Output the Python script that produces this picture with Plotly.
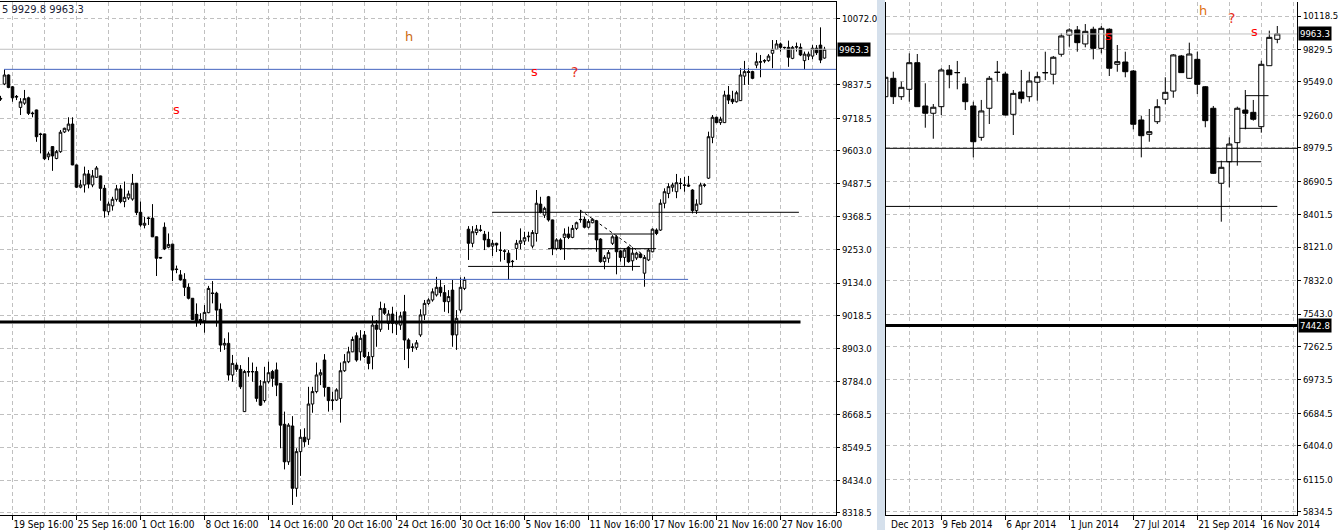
import plotly.graph_objects as go

# ---------------- Left panel: H4 candles (bar index 0..206) ----------------
L_open = [9789,9840,9872,9830,9796,9757,9772,9791,9737,9748,9663,9663,9582,9618,9576,9600,9670,9677,9698,9553,
          9474,9482,9521,9482,9509,9514,9470,9387,9408,9431,9468,9423,9436,9432,9488,9385,9339,9365,9364,9298,
          9225,9332,9261,9272,9184,9163,9147,9119,9080,9023,9005,9000,9029,9099,9098,9041,8914,8920,8808,8843,
          8828,8678,8820,8819,8820,8769,8717,8784,8820,8826,8778,8633,8500,8627,8406,8536,8587,8580,8705,8749,
          8808,8861,8764,8717,8719,8725,8823,8855,8890,8947,8890,8950,8873,8873,8985,8970,9044,8991,9024,8989,
          8985,9032,8932,8906,8906,8950,9021,9062,9074,9092,9119,9100,9068,9109,8950,9038,9115,9325,9275,9313,
          9322,9307,9289,9265,9275,9251,9248,9240,9210,9257,9275,9283,9298,9265,9310,9414,9375,9440,9358,9257,
          9287,9296,9308,9296,9328,9360,9360,9332,9348,9355,9290,9210,9222,9275,9298,9248,9225,9261,9213,9223,
          9237,9169,9216,9245,9322,9322,9417,9452,9474,9458,9488,9482,9482,9464,9391,9414,9482,9506,9651,9722,
          9703,9703,9801,9786,9777,9781,9868,9884,9884,9907,9919,9923,9923,9949,9963,9982,9970,9970,9931,9971,
          9970,9923,9939,9939,9967,9978,9932]
L_high = [9798,9892,9874,9833,9801,9790,9819,9795,9742,9749,9667,9664,9600,9619,9606,9677,9685,9722,9722,9554,
          9500,9547,9535,9535,9549,9515,9482,9423,9440,9482,9482,9494,9462,9521,9489,9423,9369,9369,9414,9299,
          9226,9349,9310,9273,9196,9180,9169,9133,9081,9062,9027,9056,9124,9141,9103,9062,8938,8959,8879,8852,
          8843,8826,8871,8852,8837,8790,8837,8855,8826,8852,8779,8678,8637,8662,8548,8615,8619,8766,8766,8852,
          8828,8882,8765,8749,8761,8852,8882,8908,8944,8959,8967,8964,8890,9018,9003,9068,9062,9038,9050,9032,
          9032,9092,8938,8920,8932,9041,9074,9080,9115,9156,9145,9127,9109,9145,9038,9154,9156,9336,9336,9340,
          9340,9319,9316,9287,9277,9316,9254,9251,9216,9287,9328,9316,9316,9322,9464,9440,9405,9443,9359,9293,
          9293,9328,9334,9340,9352,9393,9369,9360,9364,9358,9293,9233,9251,9304,9304,9251,9257,9265,9261,9245,
          9240,9233,9257,9328,9328,9431,9470,9488,9490,9521,9506,9511,9514,9467,9431,9490,9488,9671,9730,9724,
          9724,9816,9833,9816,9816,9896,9922,9896,9887,9951,9943,9928,9946,9996,9996,9987,9972,9994,9975,9987,
          9984,9955,9955,9978,9978,10041,9972]
L_low = [9780,9836,9825,9777,9783,9730,9766,9730,9722,9635,9594,9570,9570,9532,9573,9596,9666,9671,9552,9471,
         9470,9455,9470,9474,9507,9426,9366,9375,9391,9423,9417,9403,9429,9426,9375,9334,9328,9340,9297,9159,
         9221,9251,9257,9141,9169,9143,9088,9076,9003,8979,8985,8958,9027,9062,8979,8890,8897,8788,8784,8819,
         8758,8677,8802,8784,8713,8698,8710,8778,8766,8733,8548,8473,8489,8347,8376,8450,8553,8560,8674,8743,
         8772,8731,8678,8684,8716,8639,8819,8850,8889,8855,8859,8868,8828,8828,8908,8961,9021,8968,8956,8950,
         8968,8861,8832,8890,8897,8943,9003,9056,9068,9086,9086,9032,9027,8908,8897,9029,9109,9216,9261,9304,
         9316,9251,9261,9230,9244,9210,9216,9145,9190,9216,9254,9269,9281,9257,9281,9381,9365,9352,9233,9251,
         9251,9216,9290,9293,9322,9348,9328,9328,9346,9245,9206,9183,9206,9269,9165,9210,9195,9206,9178,9216,
         9222,9121,9212,9243,9304,9319,9399,9435,9458,9435,9467,9458,9475,9381,9379,9411,9474,9503,9630,9701,
         9695,9702,9769,9769,9774,9780,9837,9837,9857,9896,9864,9914,9919,9896,9961,9955,9963,9901,9928,9955,
         9939,9892,9925,9928,9943,9914,9929.8]
L_close = [9787,9872,9828,9791,9794,9777,9788,9736,9735,9653,9661,9575,9592,9585,9600,9669,9683,9698,9553,9474,
           9482,9521,9485,9514,9542,9470,9390,9414,9431,9468,9423,9438,9450,9488,9384,9340,9346,9363,9298,9222,
           9223,9255,9271,9180,9182,9145,9119,9080,9005,9000,9001,9030,9115,9097,9038,8914,8920,8808,8849,8828,
           8766,8820,8819,8820,8725,8701,8784,8816,8796,8772,8630,8500,8630,8406,8536,8587,8571,8705,8749,8808,
           8816,8764,8717,8719,8755,8823,8855,8890,8934,8861,8938,8873,8849,8985,8970,9044,9027,9024,8991,8997,
           9017,8932,8903,8907,8922,9021,9062,9074,9103,9119,9100,9068,9086,8950,9009,9119,9147,9275,9316,9325,
           9321,9287,9263,9275,9269,9250,9247,9206,9211,9275,9284,9295,9300,9313,9417,9384,9399,9358,9257,9287,
           9257,9308,9296,9328,9348,9359,9332,9352,9360,9287,9210,9225,9242,9298,9245,9225,9251,9210,9240,9240,
           9225,9225,9251,9325,9310,9417,9458,9476,9482,9490,9487,9481,9478,9391,9414,9482,9481,9653,9722,9703,
           9715,9801,9783,9777,9809,9872,9884,9881,9860,9919,9918,9922,9939,9963,9982,9970,9969,9935,9970,9972,
           9943,9946,9946,9967,9951,9925,9963.3]
L_idx = list(range(len(L_open)))

L_tick_idx = [3, 19, 35, 51, 67, 83, 99, 115, 131, 147, 163, 179, 195]
L_tick_text = ["19 Sep 16:00", "25 Sep 16:00", "1 Oct 16:00", "8 Oct 16:00", "14 Oct 16:00",
               "20 Oct 16:00", "24 Oct 16:00", "30 Oct 16:00", "5 Nov 16:00", "11 Nov 16:00",
               "17 Nov 16:00", "21 Nov 16:00", "27 Nov 16:00"]
L_grid_idx = list(range(3, 208, 8))
L_ytick_vals = [10072.0, 9837.5, 9718.5, 9603.0, 9487.5, 9368.5, 9253.0, 9134.0, 9018.5,
                8903.0, 8784.0, 8668.5, 8549.5, 8434.0, 8318.5]

# ---------------- Right panel: weekly candles (bar index -1..48) ----------------
R_open = [9421,9580,9421,9485,9715,9341,9278,9335,9652,9630,9531,9341,9070,9321,9633,9617,9269,9462,9421,9546,
          9630,9615,9788,9954,9998,9877,10004,9839,10004,9701,9721,9643,9220,9096,9205,9399,9470,9773,9580,9744,
          9507,9321,8673,8859,9024,9306,9286,9162,9689,9917]
R_high = [9609,9637,9551,9796,9790,9537,9358,9667,9695,9730,9589,9378,9393,9600,9730,9637,9479,9652,9637,9637,
          9810,9773,9969,10012,10032,10049,10026,10032,10012,9868,9810,9652,9254,9315,9399,9589,9790,9782,9888,9810,
          9513,9341,8868,9070,9335,9479,9393,9732,9992,10032]
R_low = [9410,9358,9393,9378,9334,9153,9058,9263,9494,9485,9306,8897,9041,9185,9551,9258,9090,9364,9378,9387,
         9565,9528,9767,9853,9810,9848,9744,9796,9600,9637,9589,9139,8897,9032,9185,9355,9412,9626,9574,9444,
         9157,8753,8341,8638,8825,9139,9214,9110,9689,9883]
R_close = [9589,9421,9502,9715,9335,9278,9330,9652,9611,9629,9378,9032,9298,9580,9631,9263,9450,9404,9557,9594,
           9628,9762,9946,9998,9888,9986,9839,10012,9667,9724,9637,9183,9084,9119,9335,9459,9782,9629,9790,9528,
           9214,8759,8811,9012,9321,9278,9226,9701,9934,9963.3]
R_idx = list(range(-1, len(R_open) - 1))

R_tick_idx = [6, 14, 22, 30, 38, 46]
R_tick_text = ["9 Feb 2014", "6 Apr 2014", "1 Jun 2014", "27 Jul 2014", "21 Sep 2014", "16 Nov 2014"]
R_first_label = "Dec 2013"
R_grid_idx = list(range(2, 51, 4))
R_ytick_vals = [10118.5, 9829.5, 9549.0, 9260.0, 8979.5, 8690.5, 8401.5, 8121.0, 7832.0,
                7543.0, 7262.5, 6973.5, 6684.5, 6404.0, 6115.0, 5834.5]

last_price = 9963.3
right_level_price = 7442.8
info_text = "5 9929.8 9963.3"

# drawn objects: (x0, x1, price0, price1)
L_blue_levels = [(0.9, 208.9, 9892, 9892), (50.9, 171.9, 9147, 9147)]
L_thick_levels = [(-0.2, 200.0, 8996, 8996)]
L_thin_levels = [(122.9, 199.6, 9385, 9385), (116.9, 159.9, 9193, 9193),
                 (136.9, 163.9, 9256, 9256), (146.9, 163.4, 9308, 9308)]
L_trend = [(144.9, 161.1, 9393, 9230)]
R_thin_levels = [(-0.95, 50.5, 8975, 8975), (-0.95, 48.0, 8473, 8473),
                 (40.4, 46.0, 8859, 8859), (43.3, 46.05, 9148, 9148),
                 (44.05, 46.9, 9430, 9430), (44.05, 44.05, 9148, 9430)]
R_thick_levels = [(-0.95, 50.5, right_level_price, right_level_price)]

# text marks: (index, price, text, color, size)
L_marks = [(43.9, 9750, "s", "#ff0000", 13), (102.1, 10007, "h", "#cc6a10", 13),
           (133.6, 9886, "s", "#ff0000", 13), (143.6, 9883, "?", "#e8321e", 14)]
R_marks = [(26.9, 9954, "s", "#ff0000", 13), (38.7, 10166, "h", "#e07010", 13),
           (42.3, 10097, "?", "#e8321e", 14), (45.2, 9985, "s", "#ff0000", 13)]

# ---------------- figure ----------------
W, H = 1338, 530
def px(x):
    return x / W

y_dom = [(H - 515) / H, (H - 2) / H]
FONT = "DejaVu Sans Condensed, DejaVu Sans, sans-serif"
GRID = "#c0c0c0"
DASH = "4px,3px"

candle_style = dict(
    increasing=dict(line=dict(color="black", width=1), fillcolor="white"),
    decreasing=dict(line=dict(color="black", width=1), fillcolor="black"),
    whiskerwidth=0, showlegend=False, hoverinfo="skip",
)

fig = go.Figure()
fig.add_trace(go.Candlestick(x=L_idx, open=L_open, high=L_high, low=L_low, close=L_close,
                             xaxis="x", yaxis="y", **candle_style))
fig.add_trace(go.Candlestick(x=R_idx, open=R_open, high=R_high, low=R_low, close=R_close,
                             xaxis="x2", yaxis="y2", **candle_style))

shapes = []
def seg(lst, xr, yr, color, width, dash="solid"):
    for x0, x1, p0, p1 in lst:
        shapes.append(dict(type="line", xref=xr, yref=yr, x0=x0, x1=x1, y0=p0, y1=p1,
                           line=dict(color=color, width=width, dash=dash), layer="above"))

# current price lines
seg([(-0.2, 209, last_price, last_price)], "x", "y", "#c0c0c0", 1)
seg([(-0.95, 50.5, last_price, last_price)], "x2", "y2", "#c0c0c0", 1)
seg(L_blue_levels, "x", "y", "#4565c0", 1)
seg(L_thick_levels, "x", "y", "black", 3)
seg(L_thin_levels, "x", "y", "black", 1)
seg(L_trend, "x", "y", "black", 1, "dot")
seg(R_thin_levels, "x2", "y2", "black", 1)
seg(R_thick_levels, "x2", "y2", "black", 3)

# separator between panels
shapes.append(dict(type="rect", xref="paper", yref="paper", x0=px(877), x1=px(885), y0=0, y1=1,
                   fillcolor="#d5e0ec", line=dict(width=0), layer="above"))

annotations = []
for k, p, t, c, s in L_marks:
    annotations.append(dict(x=k, y=p, xref="x", yref="y", text=t, showarrow=False,
                            font=dict(family="DejaVu Sans, sans-serif", size=s, color=c)))
for k, p, t, c, s in R_marks:
    annotations.append(dict(x=k, y=p, xref="x2", yref="y2", text=t, showarrow=False,
                            font=dict(family="DejaVu Sans, sans-serif", size=s, color=c)))

def price_box(xp, yref, val):
    annotations.append(dict(x=xp, y=val, xref="paper", yref=yref, text=f"{val:.1f}",
                            showarrow=False, xanchor="left", yanchor="middle",
                            bgcolor="black", borderpad=1,
                            font=dict(family=FONT, size=9.5, color="white")))

price_box(px(837), "y", last_price)
price_box(px(1298), "y2", last_price)
price_box(px(1298), "y2", right_level_price)

annotations.append(dict(x=px(0), y=(H - 10) / H, xref="paper", yref="paper", text=info_text,
                        showarrow=False, xanchor="left", yanchor="middle",
                        font=dict(family=FONT, size=11, color="#1b2236")))
annotations.append(dict(x=-0.5, y=(H - 524) / H, xref="x2", yref="paper", text=R_first_label,
                        showarrow=False, xanchor="left", yanchor="middle",
                        font=dict(family=FONT, size=10, color="black")))

xcommon = dict(showline=True, linecolor="black", linewidth=1, ticks="outside", ticklen=4,
               tickcolor="black", ticklabelposition="outside right", zeroline=False,
               tickangle=0, automargin=False, ticklabelstandoff=0,
               tickfont=dict(family=FONT, size=10, color="black"), showgrid=True,
               gridcolor=GRID, griddash=DASH, fixedrange=True,
               rangeslider=dict(visible=False))
ycommon = dict(side="right", showline=True, linecolor="black", linewidth=1, ticks="outside",
               ticklen=3, tickcolor="black", zeroline=False, showgrid=True, gridcolor=GRID,
               griddash=DASH, tickfont=dict(family=FONT, size=9.5, color="black"), fixedrange=True,
               automargin=False, domain=y_dom)

fig.update_layout(
    width=W, height=H, margin=dict(l=0, r=0, t=0, b=0, autoexpand=False),
    paper_bgcolor="white", plot_bgcolor="white", showlegend=False,
    boxgap=0.36, boxgroupgap=0,
    xaxis=dict(domain=[0, px(836)], range=[-0.125, 208.875], anchor="y", mirror=True,
               tickmode="array", tickvals=L_tick_idx, ticktext=L_tick_text,
               minor=dict(tickmode="array", tickvals=L_grid_idx, showgrid=True,
                          gridcolor=GRID, griddash=DASH, ticks=""),
               **xcommon),
    yaxis=dict(anchor="x", range=[8311.3, 10130.9], tickmode="array", tickvals=L_ytick_vals,
               ticktext=[f"{v:.1f}" for v in L_ytick_vals], **ycommon),
    xaxis2=dict(domain=[px(886), px(1297)], range=[-0.9125, 50.4625], anchor="y2",
                tickmode="array", tickvals=R_tick_idx, ticktext=R_tick_text,
                minor=dict(tickmode="array", tickvals=R_grid_idx, showgrid=True,
                           gridcolor=GRID, griddash=DASH, ticks=""),
                **xcommon),
    yaxis2=dict(anchor="x2", range=[5806.2, 10239.5], tickmode="array", tickvals=R_ytick_vals,
                ticktext=[f"{v:.1f}" for v in R_ytick_vals], mirror=True, **ycommon),
    shapes=shapes, annotations=annotations,
)

fig.write_html("out.html", config={"displayModeBar": False, "staticPlot": True},
               post_script="document.body.style.margin='0px';document.body.style.overflow='hidden';")
